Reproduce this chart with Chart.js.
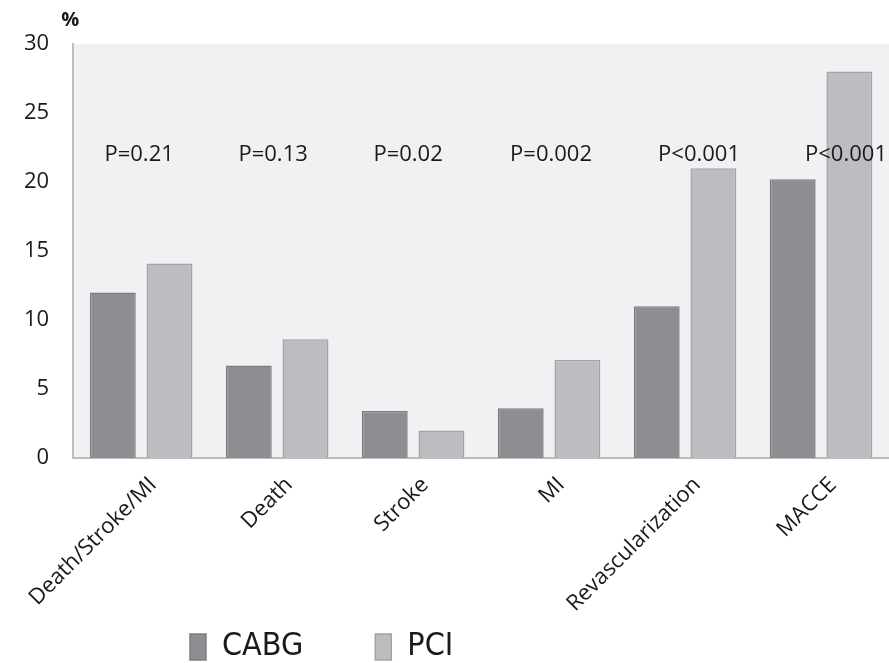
<!DOCTYPE html>
<html>
<head>
<meta charset="utf-8">
<script src="https://cdn.jsdelivr.net/npm/chart.js@4"></script>
<style>
  html, body { margin: 0; padding: 0; background: #ffffff; }
  #wrap { width: 889px; height: 663px; }
</style>
</head>
<body>
<div id="wrap"><canvas id="c" width="889" height="663"></canvas></div>
<script>
const categories = ["Death/Stroke/MI", "Death", "Stroke", "MI", "Revascularization", "MACCE"];
const cabgValues = [12.0, 6.7, 3.4, 3.6, 11.0, 20.2];
const pciValues  = [14.1, 8.6, 2.0, 7.1, 21.0, 28.0];
const pLabels    = ["P=0.21", "P=0.13", "P=0.02", "P=0.002", "P<0.001", "P<0.001"];
const pLabelLevel = 22;
const yTicks = [0, 5, 10, 15, 20, 25, 30];
const unitLabel = "%";

const FONT = "'Open Sans', 'Noto Sans', sans-serif";

const areaBg = {
  id: 'areaBg',
  beforeDraw(chart) {
    const { ctx, chartArea: a } = chart;
    ctx.save();
    ctx.fillStyle = '#f0f1f3';
    ctx.fillRect(a.left, a.top, a.right - a.left, a.bottom - a.top);
    ctx.restore();
  }
};

const pText = {
  id: 'pText',
  afterDatasetsDraw(chart, args, opts) {
    const { ctx, scales } = chart;
    ctx.save();
    ctx.font = "22px " + FONT;
    ctx.fillStyle = '#1a1a1a';
    ctx.textAlign = 'center';
    ctx.textBaseline = 'middle';
    pLabels.forEach((t, i) => {
      const x = scales.x.getPixelForValue(i) + opts.offsets[i];
      const y = scales.y.getPixelForValue(pLabelLevel);
      ctx.fillText(t, x, y);
    });
    ctx.font = "bold 20px " + FONT;
    ctx.fillText(unitLabel, chart.chartArea.left - 3, 20);
    ctx.restore();
  }
};

// Places the legend row where the reference has it and widens the gap between items
const legendPlace = {
  id: 'legendPlace',
  afterLayout(chart, args, opts) {
    const lg = chart.legend;
    if (!lg) return;
    const w = lg.right - lg.left;
    lg.left = opts.left - opts.gap;
    lg.right = lg.left + w;
    lg.top = opts.itemTop - opts.gap;
    lg.bottom = chart.height;
    lg.height = lg.bottom - lg.top;
  },
  beforeDraw(chart, args, opts) {
    const lg = chart.legend;
    if (lg && lg.options && lg.options.labels) { lg.options.labels.padding = opts.gap; }
  },
  afterDraw(chart, args, opts) {
    const lg = chart.legend;
    if (lg && lg.options && lg.options.labels) { lg.options.labels.padding = opts.basePad; }
  }
};

new Chart(document.getElementById('c'), {
  type: 'bar',
  data: {
    labels: categories,
    datasets: [
      { label: 'CABG', data: cabgValues, backgroundColor: '#8d8e92', borderColor: '#7c7d81', borderWidth: 1.5 },
      { label: 'PCI', data: pciValues, backgroundColor: '#bcbdc1', borderColor: '#a2a3a7', borderWidth: 1.5 }
    ]
  },
  options: {
    responsive: false,
    animation: false,
    devicePixelRatio: 1,
    layout: { padding: { left: 0, right: 0, top: 44, bottom: 0 } },
    datasets: { bar: { categoryPercentage: 0.834, barPercentage: 0.81 } },
    scales: {
      x: {
        grid: { display: false, drawTicks: false },
        border: { display: true, color: '#bdbdbd', width: 2 },
        ticks: {
          color: '#1a1a1a',
          font: { family: FONT, size: 22 },
          minRotation: 45, maxRotation: 45,
          padding: 14,
          labelOffset: 12
        }
      },
      y: {
        min: 0, max: 30,
        afterBuildTicks(scale) { scale.ticks = yTicks.map(v => ({ value: v })); },
        grid: { display: false, drawTicks: false },
        border: { display: true, color: '#bdbdbd', width: 2 },
        ticks: {
          color: '#1a1a1a',
          font: { family: FONT, size: 22 },
          padding: 24
        }
      }
    },
    plugins: {
      legend: {
        position: 'bottom',
        align: 'start',
        maxHeight: 32,
        labels: {
          boxWidth: 16, boxHeight: 26,
          padding: 10,
          color: '#1a1a1a',
          font: { family: "'DejaVu Sans Condensed', 'Liberation Sans Narrow', " + FONT, size: 32 }
        }
      },
      tooltip: { enabled: false },
      pText: { offsets: [-2, -4, -5, 2, 14, 25] },
      legendPlace: { left: 190, itemTop: 631, gap: 72, basePad: 10 }
    }
  },
  plugins: [areaBg, pText, legendPlace]
});
</script>
</body>
</html>
